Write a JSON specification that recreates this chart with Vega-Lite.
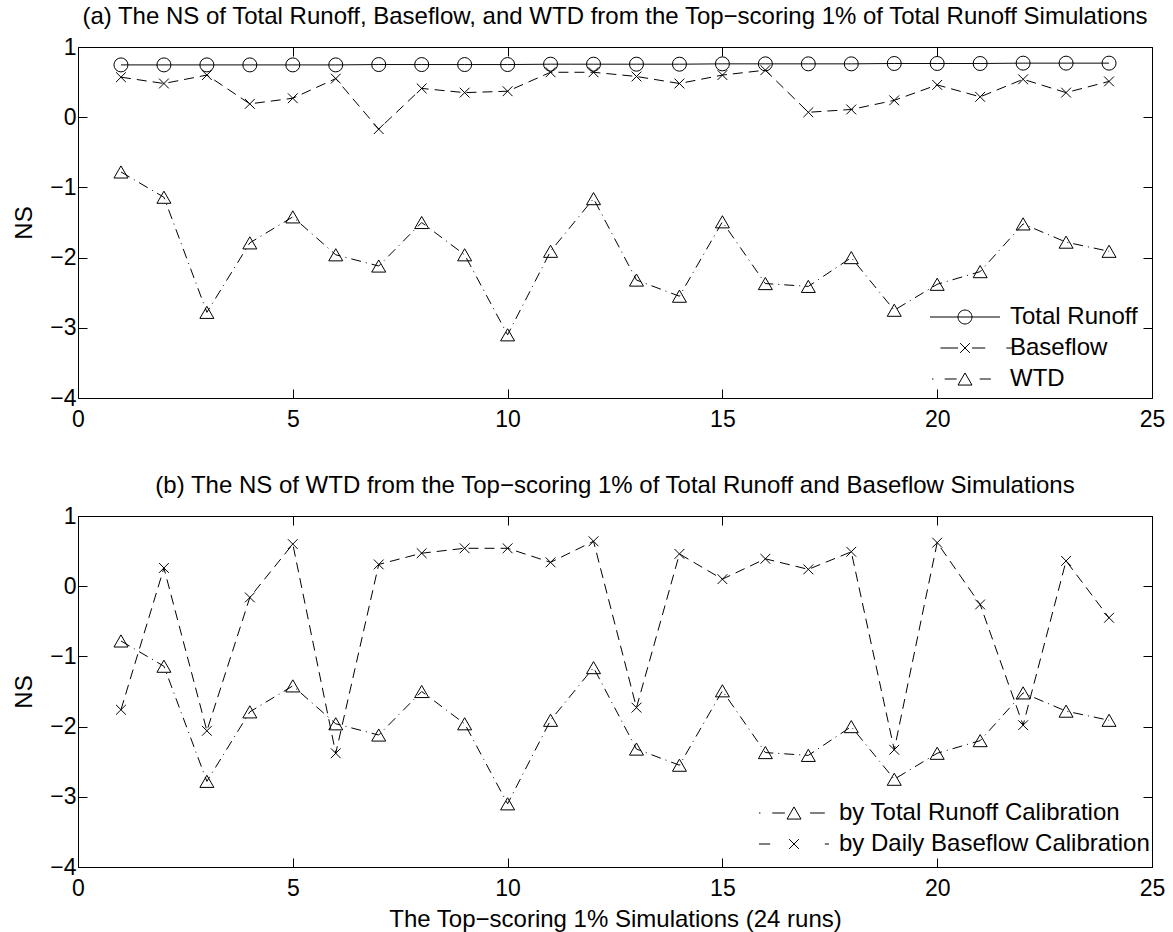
{
  "$schema": "https://vega.github.io/schema/vega-lite/v6.json",
  "autosize": {"type": "pad"},
  "padding": {"left": 12, "top": 5, "right": 5, "bottom": 5},
  "bounds": "flush",
  "spacing": 118,
  "background": "white",
  "config": {
    "font": "Liberation Sans",
    "view": {"stroke": null},
    "axis": {
      "grid": false,
      "domainColor": "black",
      "domainWidth": 1,
      "tickColor": "black",
      "tickWidth": 1,
      "tickSize": -9,
      "labelColor": "black",
      "labelFont": "Liberation Sans",
      "labelFontSize": 23,
      "titleColor": "black",
      "titleFont": "Liberation Sans",
      "titleFontSize": 24,
      "titleFontWeight": "normal"
    },
    "legend": {
      "orient": "none", "title": null, "padding": 0,
      "labelFont": "Liberation Sans", "labelFontSize": 24, "labelColor": "black", "labelLimit": 0,
      "labelOffset": 33, "symbolSize": 196, "rowPadding": 7,
      "symbolOpacity": 1, "symbolStrokeColor": "black", "symbolFillColor": "transparent", "symbolStrokeWidth": 1
    },
    "title": {"font": "Liberation Sans", "fontSize": 24, "fontWeight": "normal", "color": "black"}
  },
  "datasets": {
    "a": [
      {"run": 1, "series": "Total Runoff", "ns": 0.745},
      {"run": 2, "series": "Total Runoff", "ns": 0.745},
      {"run": 3, "series": "Total Runoff", "ns": 0.745},
      {"run": 4, "series": "Total Runoff", "ns": 0.745},
      {"run": 5, "series": "Total Runoff", "ns": 0.745},
      {"run": 6, "series": "Total Runoff", "ns": 0.745},
      {"run": 7, "series": "Total Runoff", "ns": 0.75},
      {"run": 8, "series": "Total Runoff", "ns": 0.75},
      {"run": 9, "series": "Total Runoff", "ns": 0.75},
      {"run": 10, "series": "Total Runoff", "ns": 0.75},
      {"run": 11, "series": "Total Runoff", "ns": 0.755},
      {"run": 12, "series": "Total Runoff", "ns": 0.755},
      {"run": 13, "series": "Total Runoff", "ns": 0.755},
      {"run": 14, "series": "Total Runoff", "ns": 0.755},
      {"run": 15, "series": "Total Runoff", "ns": 0.76},
      {"run": 16, "series": "Total Runoff", "ns": 0.76},
      {"run": 17, "series": "Total Runoff", "ns": 0.76},
      {"run": 18, "series": "Total Runoff", "ns": 0.76},
      {"run": 19, "series": "Total Runoff", "ns": 0.765},
      {"run": 20, "series": "Total Runoff", "ns": 0.765},
      {"run": 21, "series": "Total Runoff", "ns": 0.765},
      {"run": 22, "series": "Total Runoff", "ns": 0.77},
      {"run": 23, "series": "Total Runoff", "ns": 0.77},
      {"run": 24, "series": "Total Runoff", "ns": 0.77},
      {"run": 1, "series": "Baseflow", "ns": 0.57},
      {"run": 2, "series": "Baseflow", "ns": 0.48},
      {"run": 3, "series": "Baseflow", "ns": 0.60},
      {"run": 4, "series": "Baseflow", "ns": 0.19},
      {"run": 5, "series": "Baseflow", "ns": 0.27},
      {"run": 6, "series": "Baseflow", "ns": 0.55},
      {"run": 7, "series": "Baseflow", "ns": -0.17},
      {"run": 8, "series": "Baseflow", "ns": 0.41},
      {"run": 9, "series": "Baseflow", "ns": 0.35},
      {"run": 10, "series": "Baseflow", "ns": 0.37},
      {"run": 11, "series": "Baseflow", "ns": 0.64},
      {"run": 12, "series": "Baseflow", "ns": 0.64},
      {"run": 13, "series": "Baseflow", "ns": 0.58},
      {"run": 14, "series": "Baseflow", "ns": 0.48},
      {"run": 15, "series": "Baseflow", "ns": 0.60},
      {"run": 16, "series": "Baseflow", "ns": 0.67},
      {"run": 17, "series": "Baseflow", "ns": 0.07},
      {"run": 18, "series": "Baseflow", "ns": 0.11},
      {"run": 19, "series": "Baseflow", "ns": 0.24},
      {"run": 20, "series": "Baseflow", "ns": 0.46},
      {"run": 21, "series": "Baseflow", "ns": 0.29},
      {"run": 22, "series": "Baseflow", "ns": 0.54},
      {"run": 23, "series": "Baseflow", "ns": 0.35},
      {"run": 24, "series": "Baseflow", "ns": 0.51},
      {"run": 1, "series": "WTD", "ns": -0.78},
      {"run": 2, "series": "WTD", "ns": -1.14},
      {"run": 3, "series": "WTD", "ns": -2.78},
      {"run": 4, "series": "WTD", "ns": -1.79},
      {"run": 5, "series": "WTD", "ns": -1.42},
      {"run": 6, "series": "WTD", "ns": -1.96},
      {"run": 7, "series": "WTD", "ns": -2.12},
      {"run": 8, "series": "WTD", "ns": -1.50},
      {"run": 9, "series": "WTD", "ns": -1.96},
      {"run": 10, "series": "WTD", "ns": -3.10},
      {"run": 11, "series": "WTD", "ns": -1.91},
      {"run": 12, "series": "WTD", "ns": -1.16},
      {"run": 13, "series": "WTD", "ns": -2.32},
      {"run": 14, "series": "WTD", "ns": -2.55},
      {"run": 15, "series": "WTD", "ns": -1.49},
      {"run": 16, "series": "WTD", "ns": -2.37},
      {"run": 17, "series": "WTD", "ns": -2.41},
      {"run": 18, "series": "WTD", "ns": -2.00},
      {"run": 19, "series": "WTD", "ns": -2.75},
      {"run": 20, "series": "WTD", "ns": -2.38},
      {"run": 21, "series": "WTD", "ns": -2.20},
      {"run": 22, "series": "WTD", "ns": -1.52},
      {"run": 23, "series": "WTD", "ns": -1.78},
      {"run": 24, "series": "WTD", "ns": -1.91}
    ],
    "b": [
      {"run": 1, "series": "by Total Runoff Calibration", "ns": -0.78},
      {"run": 2, "series": "by Total Runoff Calibration", "ns": -1.14},
      {"run": 3, "series": "by Total Runoff Calibration", "ns": -2.78},
      {"run": 4, "series": "by Total Runoff Calibration", "ns": -1.79},
      {"run": 5, "series": "by Total Runoff Calibration", "ns": -1.42},
      {"run": 6, "series": "by Total Runoff Calibration", "ns": -1.96},
      {"run": 7, "series": "by Total Runoff Calibration", "ns": -2.12},
      {"run": 8, "series": "by Total Runoff Calibration", "ns": -1.50},
      {"run": 9, "series": "by Total Runoff Calibration", "ns": -1.96},
      {"run": 10, "series": "by Total Runoff Calibration", "ns": -3.10},
      {"run": 11, "series": "by Total Runoff Calibration", "ns": -1.91},
      {"run": 12, "series": "by Total Runoff Calibration", "ns": -1.16},
      {"run": 13, "series": "by Total Runoff Calibration", "ns": -2.32},
      {"run": 14, "series": "by Total Runoff Calibration", "ns": -2.55},
      {"run": 15, "series": "by Total Runoff Calibration", "ns": -1.49},
      {"run": 16, "series": "by Total Runoff Calibration", "ns": -2.37},
      {"run": 17, "series": "by Total Runoff Calibration", "ns": -2.41},
      {"run": 18, "series": "by Total Runoff Calibration", "ns": -2.00},
      {"run": 19, "series": "by Total Runoff Calibration", "ns": -2.75},
      {"run": 20, "series": "by Total Runoff Calibration", "ns": -2.38},
      {"run": 21, "series": "by Total Runoff Calibration", "ns": -2.20},
      {"run": 22, "series": "by Total Runoff Calibration", "ns": -1.52},
      {"run": 23, "series": "by Total Runoff Calibration", "ns": -1.78},
      {"run": 24, "series": "by Total Runoff Calibration", "ns": -1.91},
      {"run": 1, "series": "by Daily Baseflow Calibration", "ns": -1.76},
      {"run": 2, "series": "by Daily Baseflow Calibration", "ns": 0.26},
      {"run": 3, "series": "by Daily Baseflow Calibration", "ns": -2.06},
      {"run": 4, "series": "by Daily Baseflow Calibration", "ns": -0.16},
      {"run": 5, "series": "by Daily Baseflow Calibration", "ns": 0.60},
      {"run": 6, "series": "by Daily Baseflow Calibration", "ns": -2.38},
      {"run": 7, "series": "by Daily Baseflow Calibration", "ns": 0.31},
      {"run": 8, "series": "by Daily Baseflow Calibration", "ns": 0.47},
      {"run": 9, "series": "by Daily Baseflow Calibration", "ns": 0.54},
      {"run": 10, "series": "by Daily Baseflow Calibration", "ns": 0.54},
      {"run": 11, "series": "by Daily Baseflow Calibration", "ns": 0.34},
      {"run": 12, "series": "by Daily Baseflow Calibration", "ns": 0.64},
      {"run": 13, "series": "by Daily Baseflow Calibration", "ns": -1.73},
      {"run": 14, "series": "by Daily Baseflow Calibration", "ns": 0.46},
      {"run": 15, "series": "by Daily Baseflow Calibration", "ns": 0.10},
      {"run": 16, "series": "by Daily Baseflow Calibration", "ns": 0.39},
      {"run": 17, "series": "by Daily Baseflow Calibration", "ns": 0.24},
      {"run": 18, "series": "by Daily Baseflow Calibration", "ns": 0.49},
      {"run": 19, "series": "by Daily Baseflow Calibration", "ns": -2.33},
      {"run": 20, "series": "by Daily Baseflow Calibration", "ns": 0.62},
      {"run": 21, "series": "by Daily Baseflow Calibration", "ns": -0.26},
      {"run": 22, "series": "by Daily Baseflow Calibration", "ns": -1.98},
      {"run": 23, "series": "by Daily Baseflow Calibration", "ns": 0.36},
      {"run": 24, "series": "by Daily Baseflow Calibration", "ns": -0.45}
    ]
  },
  "vconcat": [
    {
      "width": 1074,
      "height": 351,
      "title": {"text": "(a) The NS of Total Runoff, Baseflow, and WTD from the Top\u2212scoring 1% of Total Runoff Simulations", "anchor": "middle", "baseline": "alphabetic", "offset": -12},
      "data": {"name": "a"},
      "layer": [
        {
          "mark": {"type": "line", "color": "black", "strokeWidth": 1},
          "encoding": {
            "x": {"field": "run", "type": "quantitative", "scale": {"domain": [0, 25], "nice": false, "zero": false},
                  "axis": {"orient": "bottom", "values": [0, 5, 10, 15, 20, 25], "title": null, "labelPadding": 19, "labelFlush": false}},
            "y": {"field": "ns", "type": "quantitative", "scale": {"domain": [-4, 1], "nice": false, "zero": false},
                  "axis": {"orient": "left", "values": [-4, -3, -2, -1, 0, 1], "title": "NS", "labelPadding": 11, "titlePadding": 13, "labelFlush": false}},
            "strokeDash": {"field": "series", "type": "nominal",
                  "scale": {"domain": ["Total Runoff", "Baseflow", "WTD"], "range": [[1, 0], [10, 6], [10, 5, 1, 5]]},
                  "legend": null}
          }
        },
        {
          "mark": {"type": "point", "filled": false, "color": "black", "strokeWidth": 1, "size": 196, "opacity": 1},
          "encoding": {
            "x": {"field": "run", "type": "quantitative", "axis": {"orient": "top", "values": [0, 5, 10, 15, 20, 25], "labels": false, "title": null}},
            "y": {"field": "ns", "type": "quantitative", "axis": {"orient": "right", "values": [-4, -3, -2, -1, 0, 1], "labels": false, "title": null}},
            "shape": {"field": "series", "type": "nominal",
                  "scale": {"domain": ["Total Runoff", "Baseflow", "WTD"], "range": ["circle", "M-0.7,-0.7L0.7,0.7M-0.7,0.7L0.7,-0.7", "triangle-up"]},
                  "legend": null}
          }
        },
        {
          "mark": {"type": "point", "filled": false, "color": "black", "strokeWidth": 1, "size": 196, "opacity": 0},
          "encoding": {
            "x": {"field": "run", "type": "quantitative", "axis": null},
            "y": {"field": "ns", "type": "quantitative", "axis": null},
            "shape": {"field": "series", "type": "nominal",
                  "scale": {"domain": ["Total Runoff", "Baseflow", "WTD"], "range": ["M-5,0L5,0M1,0A1,1,0,1,1,-1,0A1,1,0,1,1,1,0", "M-3.5,0L-1,0M-0.7,-0.7L0.7,0.7M-0.7,0.7L0.7,-0.7M1,0L2.9,0M5.9,0L6.8,0", "M-4.7,0L-4.5,0M-2.9,0L-1.2,0M0,-0.866L-1,0.866L1,0.866ZM2.1,0L3.7,0"]},
                  "legend": {"legendX": 875, "legendY": 258}}
          }
        }
      ],
      "resolve": {"axis": {"x": "independent", "y": "independent"}, "scale": {"shape": "independent"}, "legend": {"shape": "independent"}}
    },
    {
      "width": 1074,
      "height": 351,
      "title": {"text": "(b) The NS of WTD from the Top\u2212scoring 1% of Total Runoff and Baseflow Simulations", "anchor": "middle", "baseline": "alphabetic", "offset": -12},
      "data": {"name": "b"},
      "layer": [
        {
          "mark": {"type": "line", "color": "black", "strokeWidth": 1},
          "encoding": {
            "x": {"field": "run", "type": "quantitative", "scale": {"domain": [0, 25], "nice": false, "zero": false},
                  "axis": {"orient": "bottom", "values": [0, 5, 10, 15, 20, 25], "title": "The Top\u2212scoring 1% Simulations (24 runs)", "labelPadding": 19, "titlePadding": 7, "labelFlush": false}},
            "y": {"field": "ns", "type": "quantitative", "scale": {"domain": [-4, 1], "nice": false, "zero": false},
                  "axis": {"orient": "left", "values": [-4, -3, -2, -1, 0, 1], "title": "NS", "labelPadding": 11, "titlePadding": 13, "labelFlush": false}},
            "strokeDash": {"field": "series", "type": "nominal",
                  "scale": {"domain": ["by Total Runoff Calibration", "by Daily Baseflow Calibration"], "range": [[10, 5, 1, 5], [10, 6]]},
                  "legend": null}
          }
        },
        {
          "mark": {"type": "point", "filled": false, "color": "black", "strokeWidth": 1, "size": 196, "opacity": 1},
          "encoding": {
            "x": {"field": "run", "type": "quantitative", "axis": {"orient": "top", "values": [0, 5, 10, 15, 20, 25], "labels": false, "title": null}},
            "y": {"field": "ns", "type": "quantitative", "axis": {"orient": "right", "values": [-4, -3, -2, -1, 0, 1], "labels": false, "title": null}},
            "shape": {"field": "series", "type": "nominal",
                  "scale": {"domain": ["by Total Runoff Calibration", "by Daily Baseflow Calibration"], "range": ["triangle-up", "M-0.7,-0.7L0.7,0.7M-0.7,0.7L0.7,-0.7"]},
                  "legend": null}
          }
        },
        {
          "mark": {"type": "point", "filled": false, "color": "black", "strokeWidth": 1, "size": 196, "opacity": 0},
          "encoding": {
            "x": {"field": "run", "type": "quantitative", "axis": null},
            "y": {"field": "ns", "type": "quantitative", "axis": null},
            "shape": {"field": "series", "type": "nominal",
                  "scale": {"domain": ["by Total Runoff Calibration", "by Daily Baseflow Calibration"], "range": ["M-5,0L-4.8,0M-3.1,0L-1.3,0M0,-0.866L-1,0.866L1,0.866ZM2.3,0L4.4,0", "M-5,0L-3.4,0M-0.7,-0.7L0.7,0.7M-0.7,0.7L0.7,-0.7M4.4,0L5,0"]},
                  "legend": {"legendX": 704, "legendY": 285}}
          }
        }
      ],
      "resolve": {"axis": {"x": "independent", "y": "independent"}, "scale": {"shape": "independent"}, "legend": {"shape": "independent"}}
    }
  ],
  "resolve": {"scale": {"x": "independent", "y": "independent", "shape": "independent", "strokeDash": "independent"}}
}
